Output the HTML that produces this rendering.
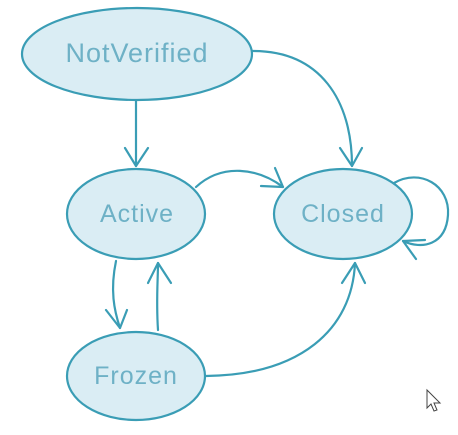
<!DOCTYPE html>
<html><head><style>
html,body{margin:0;padding:0;background:#fff;}
svg{display:block;}
text{font-family:"Liberation Sans",sans-serif;fill:#6eb1c6;text-anchor:middle;dominant-baseline:central;letter-spacing:1px;}
</style></head><body>
<svg width="458" height="435" viewBox="0 0 458 435" xmlns="http://www.w3.org/2000/svg">
<g fill="#daedf4" stroke="#3a9db5" stroke-width="2.2">
<ellipse cx="137" cy="54" rx="115" ry="46"/>
<ellipse cx="136" cy="214" rx="69" ry="45"/>
<ellipse cx="343" cy="214" rx="69" ry="45"/>
<ellipse cx="136" cy="376" rx="69" ry="44"/>
</g>
<text x="137" y="53" font-size="27">NotVerified</text>
<text x="137" y="214" font-size="25">Active</text>
<text x="343" y="214" font-size="25">Closed</text>
<text x="136" y="376" font-size="25">Frozen</text>
<g fill="none" stroke="#3a9db5" stroke-width="2.2" stroke-linecap="round" stroke-linejoin="round">
<path d="M136 101 L136 166"/><path d="M125 148 L136 166 L148 148"/>
<path d="M253 51 C320 51 352 100 352 166"/><path d="M340 148 L352 166 L362 148"/>
<path d="M196 187 C222 163 258 168 283 187"/><path d="M261 186 L283 187 L275 168"/>
<path d="M394 183 C420 168 450 185 448 215 C446 245 422 250 403 241"/><path d="M425 240 L403 241 L416 259"/>
<path d="M116 261 C110 290 114 310 120 328"/><path d="M106 310 L120 328 L127 310"/>
<path d="M158 330 C156 300 158 280 158 263"/><path d="M148 283 L158 263 L171 283"/>
<path d="M206 376 C300 375 352 330 355 263"/><path d="M342 283 L355 263 L365 283"/>
</g>
<path d="M427 390 L427 408 L431 404 L434 411 L437 410 L434 403 L440 403 Z" fill="#fff" stroke="#444" stroke-width="1"/>
</svg>
</body></html>
